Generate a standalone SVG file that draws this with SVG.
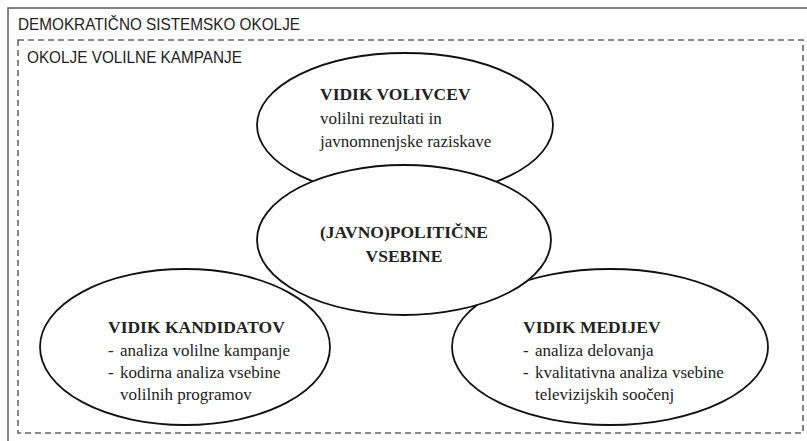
<svg xmlns="http://www.w3.org/2000/svg" width="807" height="441" viewBox="0 0 807 441">
<style>
.frame{fill:none;stroke:#666;stroke-width:1.6}
.dash{fill:none;stroke:#666;stroke-width:1.6;stroke-dasharray:6 4}
.ell{fill:#fff;stroke:#111;stroke-width:1.8}
.lab{font-family:"Liberation Sans Narrow","Liberation Sans",sans-serif;font-size:17px;fill:#222}
.h{font-family:"Liberation Serif",serif;font-size:17.5px;font-weight:bold;fill:#222}
.b{font-family:"Liberation Serif",serif;font-size:17px;fill:#222}
</style>
<rect class="frame" x="8" y="8" width="812" height="450"/>
<text class="lab" x="18" y="30" textLength="282" lengthAdjust="spacingAndGlyphs">DEMOKRATIČNO SISTEMSKO OKOLJE</text>
<rect class="dash" x="18" y="40" width="785" height="393"/>
<text class="lab" x="27" y="63" textLength="215" lengthAdjust="spacingAndGlyphs">OKOLJE VOLILNE KAMPANJE</text>
<g id="connectors"></g>
<g id="volivci">
<ellipse class="ell" cx="405" cy="125" rx="148" ry="72"/>
<text class="h" x="320" y="100">VIDIK VOLIVCEV</text>
<text class="b" x="320" y="124">volilni rezultati in</text>
<text class="b" x="320" y="147">javnomnenjske raziskave</text>
</g>
<g id="kandidati">
<ellipse class="ell" cx="185" cy="347" rx="145" ry="78"/>
<text class="h" x="108" y="333">VIDIK KANDIDATOV</text>
<text class="b" x="108" y="356">-</text><text class="b" x="120" y="356">analiza volilne kampanje</text>
<text class="b" x="108" y="378">-</text><text class="b" x="120" y="378">kodirna analiza vsebine</text>
<text class="b" x="120" y="400">volilnih programov</text>
</g>
<g id="mediji">
<ellipse class="ell" cx="610" cy="347" rx="158" ry="78"/>
<text class="h" x="523" y="333">VIDIK MEDIJEV</text>
<text class="b" x="523" y="356">-</text><text class="b" x="535" y="356">analiza delovanja</text>
<text class="b" x="523" y="378">-</text><text class="b" x="535" y="378">kvalitativna analiza vsebine</text>
<text class="b" x="535" y="400">televizijskih soočenj</text>
</g>
<g id="vsebine">
<ellipse class="ell" cx="404" cy="240" rx="147" ry="75"/>
<text class="h" x="404" y="238" text-anchor="middle">(JAVNO)POLITIČNE</text>
<text class="h" x="404" y="262" text-anchor="middle">VSEBINE</text>
</g>
</svg>
